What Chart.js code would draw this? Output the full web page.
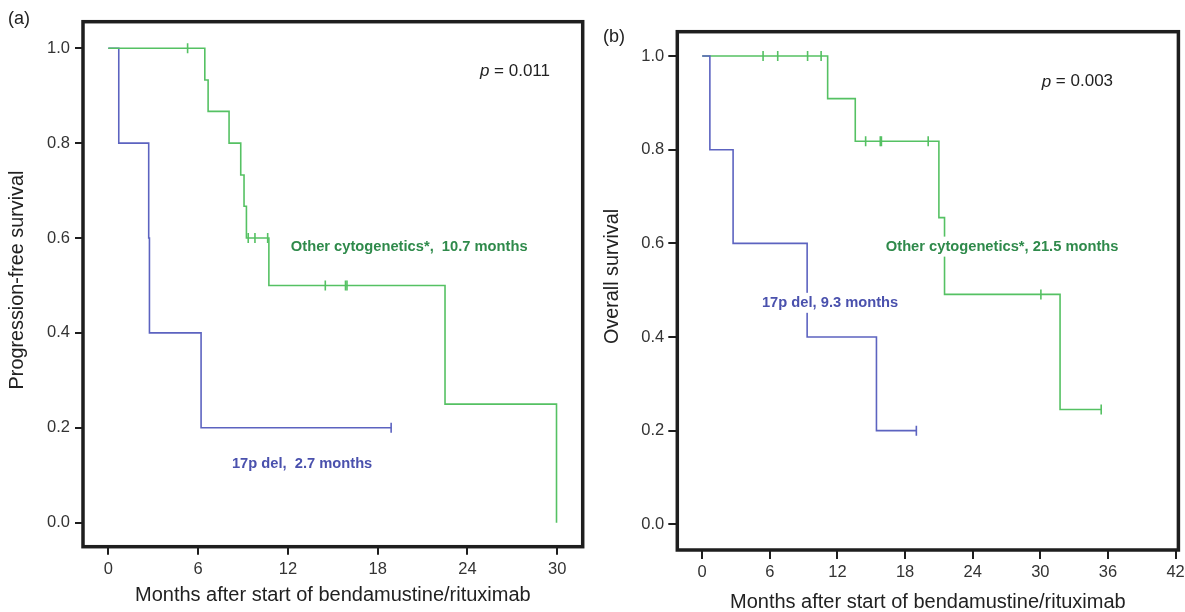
<!DOCTYPE html>
<html>
<head>
<meta charset="utf-8">
<script src="https://cdn.jsdelivr.net/npm/chart.js@4/dist/chart.umd.min.js"></script>
<style>
  body { margin:0; background:#fff; }
  #wrap { position:relative; width:1185px; height:612px; overflow:hidden; }
  #wrap canvas { position:absolute; top:0; }
</style>
</head>
<body>
<div id="wrap">
  <canvas id="chart-pfs" width="600" height="612" style="left:0"></canvas>
  <canvas id="chart-os" width="585" height="612" style="left:600px"></canvas>
</div>
<script>
/* Kaplan-Meier curves, 17p del vs other cytogenetics */
const yTicks = [0, 0.2, 0.4, 0.6, 0.8, 1.0];
const xTicksA = [0, 6, 12, 18, 24, 30];
const xTicksB = [0, 6, 12, 18, 24, 30, 36, 42];

// (a) progression-free survival
const pfsDelT = [0, 0.7, 2.7, 2.75, 6.2, 18.9];
const pfsDelS = [1, 0.8, 0.6, 0.4, 0.2, 0.2];
const pfsDelCensT = [18.9];
const pfsDelCensS = [0.2];
const pfsOthT = [0, 6.45, 6.67, 8.07, 8.85, 9.07, 9.23, 10.73, 22.5, 29.95];
const pfsOthS = [1, 0.933, 0.867, 0.8, 0.733, 0.667, 0.6, 0.5, 0.25, 0];
const pfsOthCensT = [5.3, 9.35, 9.8, 10.65, 14.5, 15.85, 15.95];
const pfsOthCensS = [1, 0.6, 0.6, 0.6, 0.5, 0.5, 0.5];

// (b) overall survival
const osDelT = [0, 0.68, 2.74, 9.31, 15.46, 19.0];
const osDelS = [1, 0.8, 0.6, 0.4, 0.2, 0.2];
const osDelCensT = [19.0];
const osDelCensS = [0.2];
const osOthT = [0, 11.13, 13.58, 21.0, 21.5, 31.75, 35.4];
const osOthS = [1, 0.909, 0.818, 0.655, 0.491, 0.245, 0.245];
const osOthCensT = [5.4, 6.7, 9.35, 10.55, 14.5, 15.8, 15.9, 20.05, 30.05, 35.4];
const osOthCensS = [1, 1, 1, 1, 0.818, 0.818, 0.818, 0.818, 0.491, 0.245];

const FONT = '"Liberation Sans", Arial, Helvetica, sans-serif';
const GREEN = '#55c163', GREEN_TXT = '#2f8a4b';
const BLUE = '#5c63c0', BLUE_TXT = '#4a51ad';
const INK = '#1e1e1e', TICK_TXT = '#333';

const pts = (t, s) => t.map((x, i) => ({ x, y: s[i] }));

function curve(t, s, color) {
  return { data: pts(t, s), showLine: true, stepped: 'before', borderColor: color,
    borderWidth: 1.6, pointRadius: 0, fill: false };
}
function censors(t, s, color) {
  return { data: pts(t, s), showLine: false, pointStyle: 'line', rotation: 90,
    pointRadius: 5, borderColor: color, borderWidth: 1.6 };
}
// keep the plot frame where we put it: no extra room for edge tick labels
function noPad(s) { s.paddingLeft = 0; s.paddingRight = 0; s.paddingTop = 0; s.paddingBottom = 0; }

function makePanel(id, o) {
  const panelText = {
    id: 'panelText',
    afterDatasetsDraw(chart) {
      const { ctx, chartArea: a, scales: { x, y } } = chart;
      ctx.save();
      // frame
      ctx.strokeStyle = INK; ctx.lineWidth = 3.5;
      ctx.strokeRect(a.left, a.top, a.right - a.left, a.bottom - a.top);
      ctx.textBaseline = 'middle';
      // group labels, white box behind so the curves break
      o.labels.forEach(n => {
        const px = x.getPixelForValue(n.x), py = y.getPixelForValue(n.y);
        ctx.font = 'bold 14.7px ' + FONT;
        const w = ctx.measureText(n.text).width;
        ctx.fillStyle = '#fff'; ctx.fillRect(px - 4, py - 10, w + 8, 20);
        ctx.fillStyle = n.color; ctx.fillText(n.text, px, py);
      });
      // p value
      const px = x.getPixelForValue(o.p.x), py = y.getPixelForValue(o.p.y);
      ctx.fillStyle = '#222';
      ctx.font = 'italic 17px ' + FONT; ctx.fillText('p', px, py);
      const pw = ctx.measureText('p').width;
      ctx.font = '17px ' + FONT; ctx.fillText(' = ' + o.p.text, px + pw, py);
      // panel letter + y title
      ctx.font = '18px ' + FONT; ctx.fillStyle = '#222';
      ctx.fillText(o.letter, o.letterPos[0], o.letterPos[1]);
      ctx.translate(o.yTitlePos[0], o.yTitlePos[1]); ctx.rotate(-Math.PI / 2);
      ctx.textAlign = 'center'; ctx.font = '19.8px ' + FONT;
      ctx.fillText(o.yTitle, 0, 0);
      ctx.restore();
    }
  };

  return new Chart(document.getElementById(id), {
    type: 'scatter',
    data: { datasets: o.datasets },
    options: {
      responsive: false, animation: false, devicePixelRatio: 1,
      layout: { padding: o.pad },
      plugins: { legend: { display: false }, tooltip: { enabled: false } },
      scales: {
        x: { type: 'linear', min: o.xMin, max: o.xMax,
          afterBuildTicks: s => { s.ticks = o.xTicks.map(v => ({ value: v })); },
          afterFit: s => { s.height = o.xH; noPad(s); },
          grid: { drawOnChartArea: false, tickLength: o.tickLen, color: INK, lineWidth: 2 },
          border: { display: false },
          ticks: { color: TICK_TXT, padding: o.xPad, autoSkip: false, maxRotation: 0,
            font: { family: FONT, size: 16.5 }, callback: v => String(v) },
          title: { display: true, text: 'Months after start of bendamustine/rituximab', color: '#222',
            font: { family: FONT, size: 20, lineHeight: 1 }, padding: { top: 0, bottom: o.xTitlePad } }
        },
        y: { type: 'linear', min: o.yMin, max: o.yMax,
          afterBuildTicks: s => { s.ticks = yTicks.map(v => ({ value: v })); },
          afterFit: s => { s.width = o.yW; noPad(s); },
          grid: { drawOnChartArea: false, tickLength: o.tickLen, color: INK, lineWidth: 2 },
          border: { display: false },
          ticks: { color: TICK_TXT, padding: o.yPad, font: { family: FONT, size: 16.5 },
            callback: v => Number(v).toFixed(1) }
        }
      }
    },
    plugins: [panelText]
  });
}

makePanel('chart-pfs', {
  datasets: [
    censors(pfsOthCensT, pfsOthCensS, GREEN),
    curve(pfsOthT, pfsOthS, GREEN),
    censors(pfsDelCensT, pfsDelCensS, BLUE),
    curve(pfsDelT, pfsDelS, BLUE)
  ],
  xMin: -1.69, xMax: 31.7, yMin: -0.0506, yMax: 1.056, xTicks: xTicksA,
  pad: { top: 21.7, right: 17.3, left: 0, bottom: 0 }, xH: 65.3, yW: 83,
  tickLen: 8, xPad: 5, yPad: 5, xTitlePad: 7,
  labels: [
    { text: 'Other cytogenetics*,  10.7 months', x: 12.2, y: 0.582, color: GREEN_TXT },
    { text: '17p del,  2.7 months', x: 8.26, y: 0.124, color: BLUE_TXT }
  ],
  p: { text: '0.011', x: 24.83, y: 0.951 },
  letter: '(a)', letterPos: [8, 19],
  yTitle: 'Progression-free survival', yTitlePos: [18, 280]
});

makePanel('chart-os', {
  datasets: [
    censors(osDelCensT, osDelCensS, BLUE),
    curve(osDelT, osDelS, BLUE),
    censors(osOthCensT, osOthCensS, GREEN),
    curve(osOthT, osOthS, GREEN)
  ],
  xMin: -2.21, xMax: 42.25, yMin: -0.0549, yMax: 1.052, xTicks: xTicksB,
  pad: { top: 31.7, right: 4.5, left: 0, bottom: 0 }, xH: 62, yW: 77.3,
  tickLen: 9, xPad: 4, yPad: 4, xTitlePad: 0,
  labels: [
    { text: 'Other cytogenetics*, 21.5 months', x: 16.29, y: 0.593, color: GREEN_TXT },
    { text: '17p del, 9.3 months', x: 5.3, y: 0.473, color: BLUE_TXT }
  ],
  p: { text: '0.003', x: 30.12, y: 0.945 },
  letter: '(b)', letterPos: [3, 37],
  yTitle: 'Overall survival', yTitlePos: [12.5, 276.5]
});
</script>
</body>
</html>
